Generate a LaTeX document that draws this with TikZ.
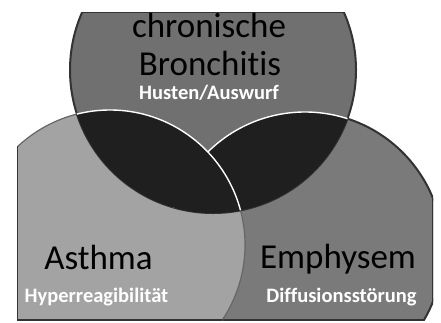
\documentclass[tikz,border=0pt]{standalone}
\usepackage{fontspec}
\setmainfont{Carlito}[Ligatures={NoCommon,NoDiscretionary}]
\definecolor{topfill}{gray}{0.44}
\definecolor{emphfill}{gray}{0.48}
\definecolor{asthfill}{gray}{0.64}
\definecolor{lensfill}{gray}{0.12}
\begin{document}
\begin{tikzpicture}[x=1pt,y=-1pt,
  title/.style={font=\fontsize{35}{40}\selectfont, text=black, inner sep=0pt, anchor=base},
  sub/.style={font=\fontsize{20.5}{24}\selectfont\bfseries, text=white, inner sep=0pt, anchor=base},
  rim/.style={draw=black!80, line width=2pt},
  softrim/.style={draw=black!60, line width=1.2pt},
  seam/.style={draw=white, line width=1.4pt}]
\useasboundingbox (0,0) rectangle (441,322);
\fill[white] (0,0) rectangle (441,322);
\coordinate (cT) at (213,70);
\coordinate (cA) at (110,245);
\coordinate (cE) at (305,250);
% bottom circles, clipped to the panel
\begin{scope}
  \clip (17,0) rectangle (433,320);
  \fill[emphfill] (cE) circle (138pt);
  \draw[rim] (cE) circle (138pt);
  \begin{scope}
    \clip (cE) circle (138pt);
    \draw[rim] (17,0) rectangle (433,320);
  \end{scope}
  \fill[asthfill] (cA) circle (135pt);
  \draw[softrim] (cA) circle (135pt);
  \begin{scope}
    \clip (cA) circle (135pt);
    \draw[rim] (17,0) rectangle (433,320);
  \end{scope}
\end{scope}
% top circle, cut flat at the top
\begin{scope}
  \clip (0,12) rectangle (441,322);
  \fill[topfill] (cT) circle (143pt);
  \draw[rim] (cT) circle (143pt);
  \clip (cT) circle (143pt);
  \draw[rim] (0,12) -- (441,12);
  \fill[lensfill] (cE) circle (138pt);
  \draw[seam] (cE) circle (138pt);
  \fill[lensfill] (cA) circle (135pt);
  \draw[seam] (cA) circle (135pt);
\end{scope}
% labels
\node[title] (chron) at (209,37) {chronische};
\node[title] (bron) at (210,75) {Bronchitis};
\node[sub] (husten) at (209,99) {Husten/Auswurf};
\node[title] (asth) at (98.5,269) {Asthma};
\node[sub] (hyper) at (96.5,302) {Hyperreagibilität};
\node[title] (emph) at (338,268) {Emphysem};
\node[sub] (diff) at (341.5,302) {Diffusionsstörung};
\end{tikzpicture}
\end{document}
